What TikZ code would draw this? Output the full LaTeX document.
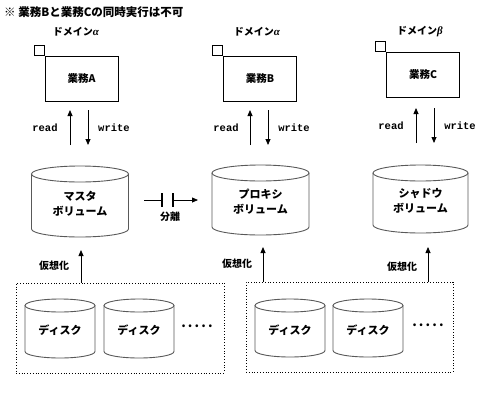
\documentclass[tikz,border=0pt]{standalone}
\usepackage{fontspec}
\newfontfamily\jp{Noto Sans CJK JP}
\newfontfamily\mono{Liberation Mono}
\newfontfamily\grk{Liberation Serif}
\usetikzlibrary{arrows.meta}
\tikzset{
  jpfont/.style={font=\jp\bfseries\fontsize{10}{14}\selectfont},
  cylline/.style={draw=black!65, line width=0.9pt},
  cyltext/.style={font=\jp\bfseries\fontsize{11}{15}\selectfont, align=center, inner sep=0pt},
  taskbox/.style={draw, line width=0.8pt, minimum width=73pt, minimum height=45pt, inner sep=0pt, font=\jp\bfseries\fontsize{10.5}{14}\selectfont},
  cornerbox/.style={draw, fill=white, line width=0.8pt, minimum width=10pt, minimum height=10pt, inner sep=0pt, anchor=south east},
  vbox/.style={draw, dotted, line width=0.8pt, inner sep=0pt},
  arr/.style={line width=0.8pt, -{Triangle[length=6pt,width=5pt]}},
  rw/.style={font=\mono\bfseries\fontsize{10.5}{12}\selectfont, inner sep=0pt},
  lbl/.style={jpfont, inner sep=0pt},
  bar/.style={line width=2pt},
}
\newcommand{\grkch}[1]{{\grk\bfseries\itshape\fontsize{11}{12}\selectfont #1}}
\newcommand{\mycyl}[7]{% name, cx, ytop, ybot, halfwidth, ry, text
  \draw[cylline] (#2-#5,#3+#6) -- (#2-#5,#4-#6) arc[start angle=180,end angle=0,x radius=#5,y radius=#6] -- (#2+#5,#3+#6);
  \draw[cylline] (#2,#3+#6) ellipse[x radius=#5,y radius=#6];
  \node[cyltext] (#1) at (#2,{(#3+#4)/2+2}) {#7};
}
\begin{document}
\begin{tikzpicture}[x=1pt,y=-1pt]
\useasboundingbox (0,0) rectangle (500,400);
% title
\node[lbl, anchor=west, font=\jp\bfseries\fontsize{11.5}{12}\selectfont] (title) at (4,12) {※ 業務Bと業務Cの同時実行は不可};
% domain labels
\node[lbl] (dA) at (76,32) {ドメイン\grkch{α}};
\node[lbl] (dB) at (257,32) {ドメイン\grkch{α}};
\node[lbl] (dC) at (420,32) {ドメイン\grkch{β}};
% task boxes
\node[taskbox] (A) at (81.5,78.5) {業務A};
\node[taskbox] (B) at (260,78.5) {業務B};
\node[taskbox] (C) at (423,75) {業務C};
\node[cornerbox] (qA) at (A.north west) {};
\node[cornerbox] (qB) at (B.north west) {};
\node[cornerbox] (qC) at (C.north west) {};
% read/write arrows
\coordinate (rA1) at (70,145); \coordinate (rA2) at (70,110);
\coordinate (wA1) at (88,110); \coordinate (wA2) at (88,145);
\coordinate (rB1) at (250,145); \coordinate (rB2) at (250,110);
\coordinate (wB1) at (268,110); \coordinate (wB2) at (268,145);
\coordinate (rC1) at (416,143); \coordinate (rC2) at (416,108);
\coordinate (wC1) at (434,108); \coordinate (wC2) at (434,143);
\draw[arr] (rA1) -- (rA2); \draw[arr] (wA1) -- (wA2);
\draw[arr] (rB1) -- (rB2); \draw[arr] (wB1) -- (wB2);
\draw[arr] (rC1) -- (rC2); \draw[arr] (wC1) -- (wC2);
\node[rw] (readA) at (45,128) {read};
\node[rw] (writeA) at (114,128) {write};
\node[rw] (readB) at (226,128) {read};
\node[rw] (writeB) at (294,128) {write};
\node[rw] (readC) at (391,126) {read};
\node[rw] (writeC) at (460,126) {write};
% volumes
\mycyl{M}{80}{166}{237}{48.5}{8}{マスタ\\ボリューム}
\mycyl{P}{260.5}{165}{235}{48.5}{8}{プロキシ\\ボリューム}
\mycyl{S}{420.5}{165}{233}{47.5}{8}{シャドウ\\ボリューム}
% separation symbol
\coordinate (s1) at (144,200); \coordinate (s2) at (162,200);
\coordinate (s3) at (173,200); \coordinate (s4) at (198,200);
\draw[line width=0.9pt] (s1) -- (s2);
\draw[bar] (162,193) -- (162,207);
\draw[bar] (173,193) -- (173,207);
\draw[arr] (s3) -- (s4);
\node[lbl] (sep) at (170,217) {分離};
% virtualization boxes
\node[vbox, minimum width=208pt, minimum height=90pt] (V1) at (120,328) {};
\node[vbox, minimum width=207pt, minimum height=90pt] (V2) at (349.5,327) {};
\coordinate (vA1) at (81,283); \coordinate (vA2) at (81,250);
\coordinate (vB1) at (263,282); \coordinate (vB2) at (263,247);
\coordinate (vC1) at (428,282); \coordinate (vC2) at (428,247);
\draw[arr] (vA1) -- (vA2);
\draw[arr] (vB1) -- (vB2);
\draw[arr] (vC1) -- (vC2);
\node[lbl] (kA) at (54,266) {仮想化};
\node[lbl] (kB) at (237,264) {仮想化};
\node[lbl] (kC) at (402,267) {仮想化};
% disks
\mycyl{D1}{60}{299}{358}{35}{6.5}{ディスク}
\mycyl{D2}{139}{299}{358}{35}{6.5}{ディスク}
\mycyl{D3}{290}{299}{357}{35}{6.5}{ディスク}
\mycyl{D4}{368}{299}{357}{35}{6.5}{ディスク}
\node[lbl, font=\jp\bfseries\fontsize{13}{14}\selectfont] (dots1) at (197,326) {.\,.\,.\,.\,.};
\node[lbl, font=\jp\bfseries\fontsize{13}{14}\selectfont] (dots2) at (428,325) {.\,.\,.\,.\,.};
\end{tikzpicture}
\end{document}
